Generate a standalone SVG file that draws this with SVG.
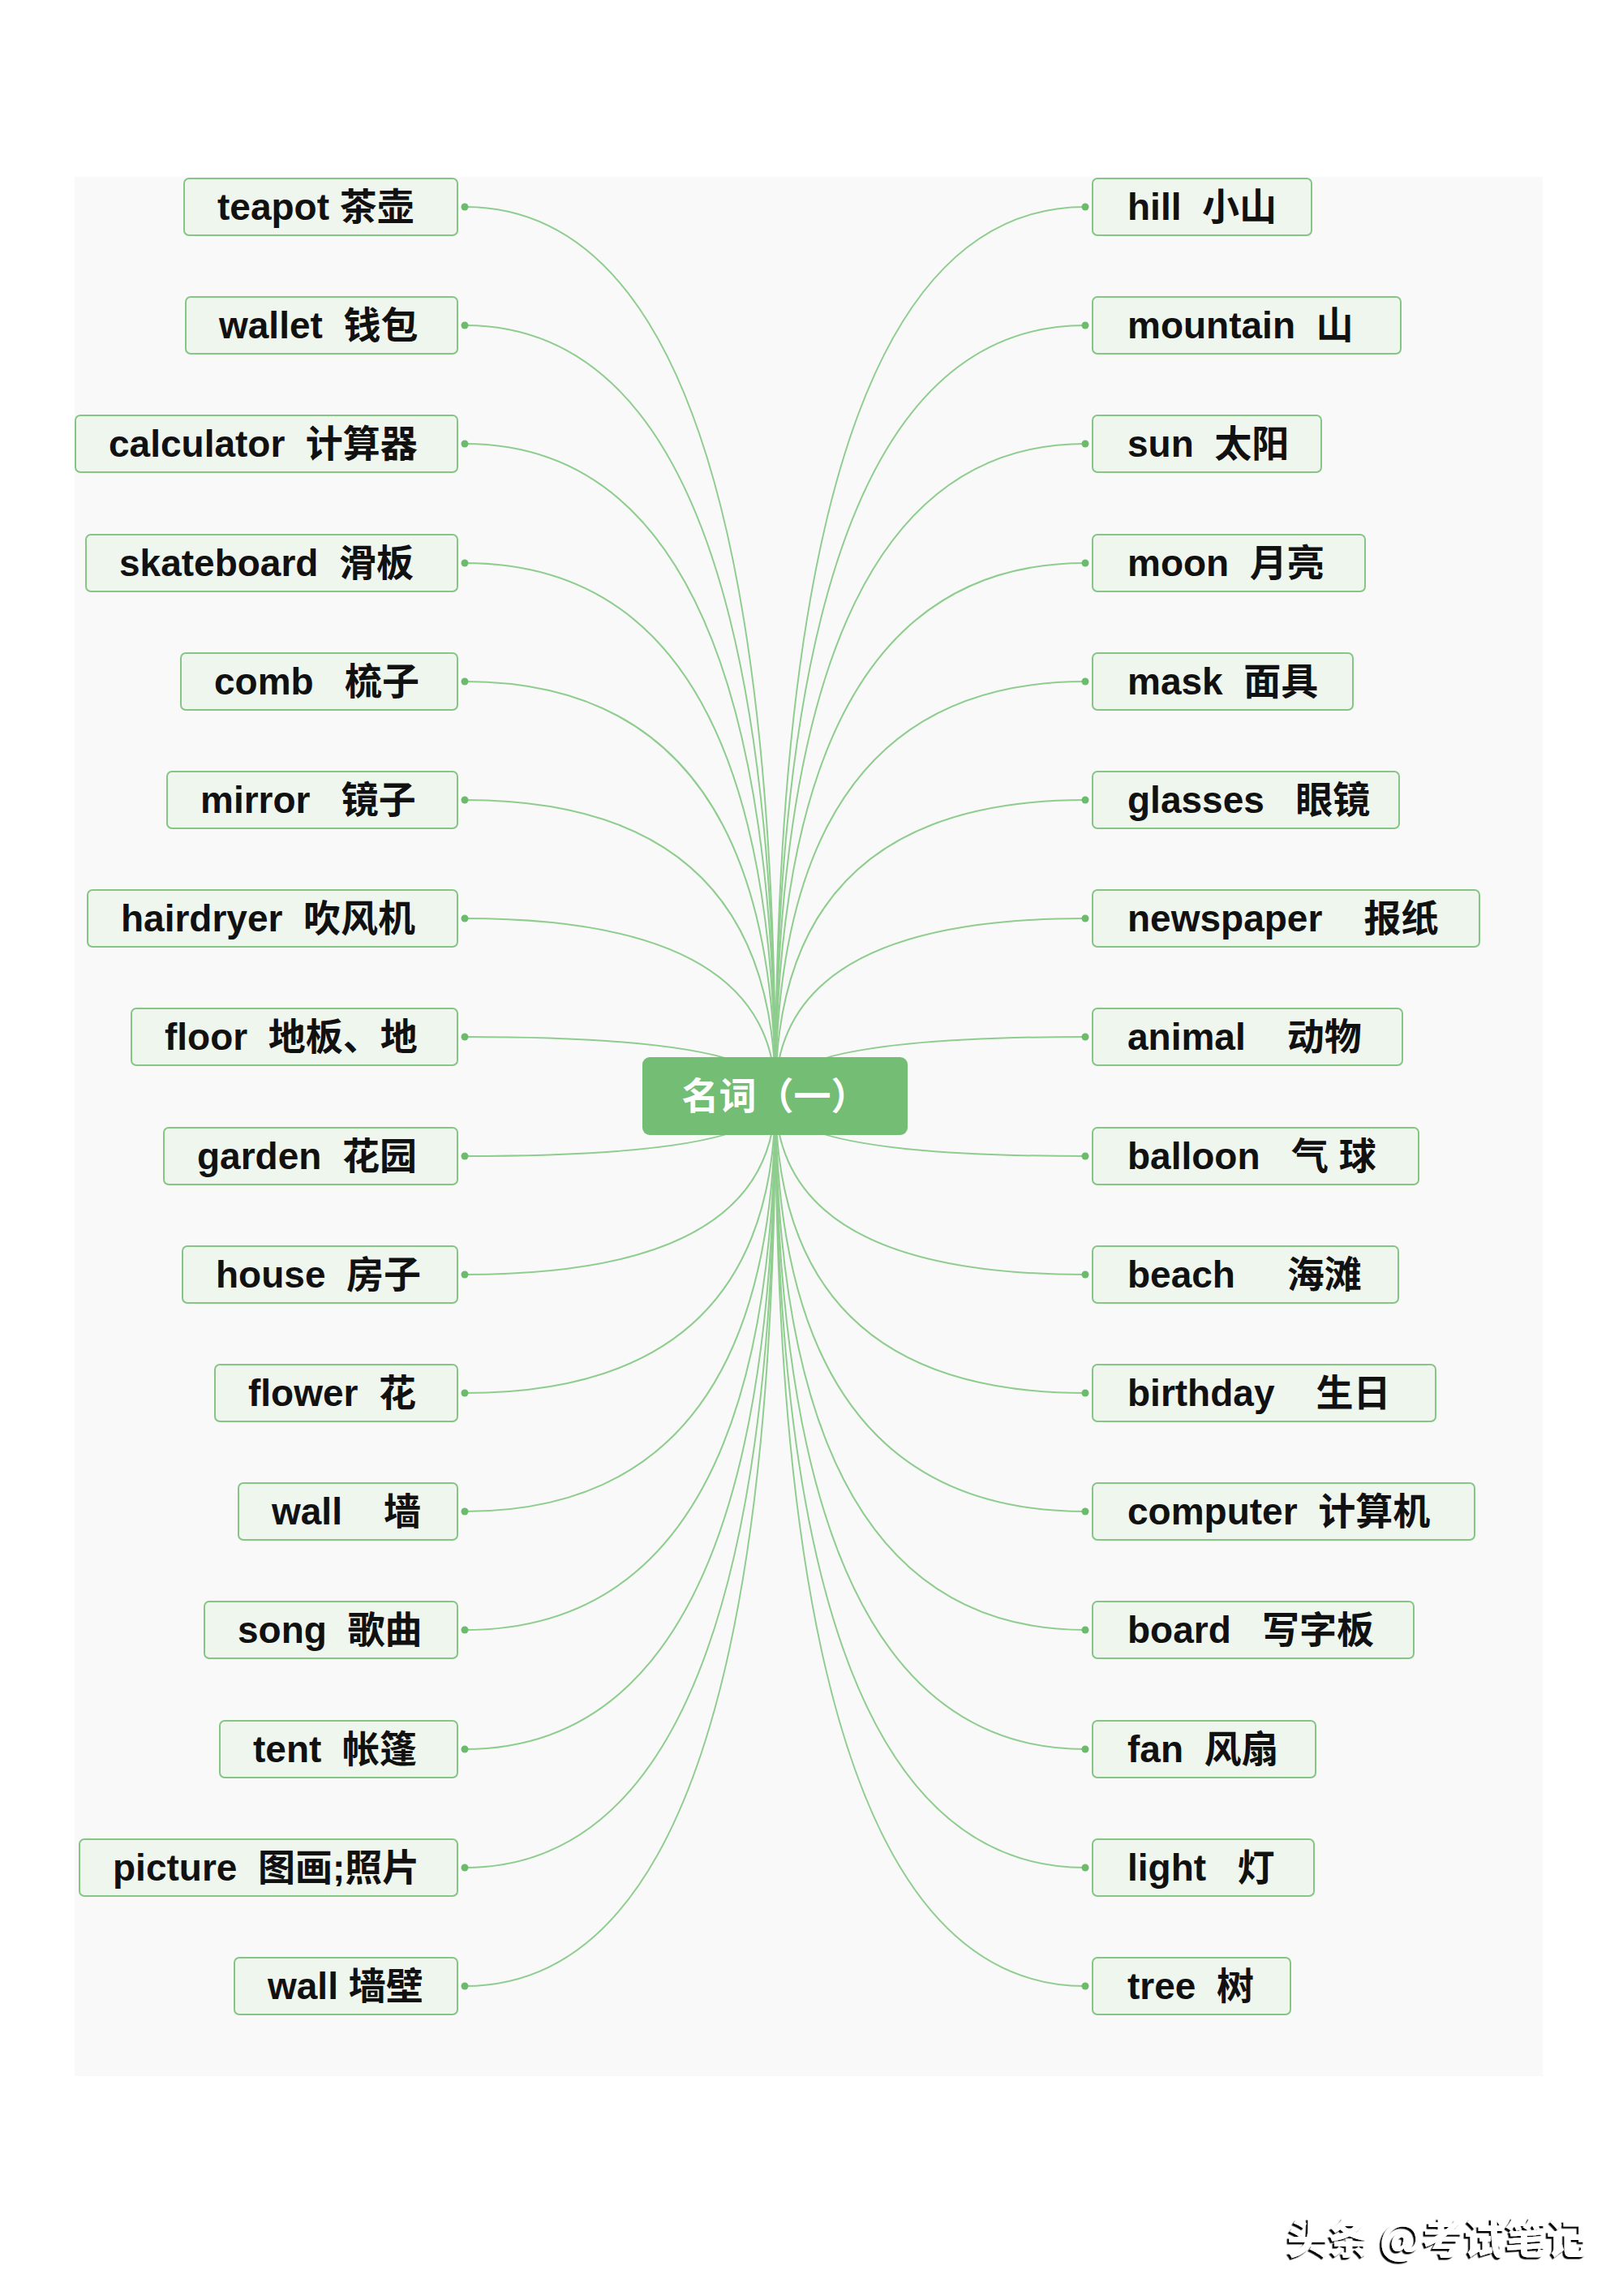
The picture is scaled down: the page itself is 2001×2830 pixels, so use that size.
<svg xmlns="http://www.w3.org/2000/svg" width="2001" height="2830" viewBox="0 0 2001 2830">
<style>
.bg{fill:#f9f9f9}
.box{fill:#eff6ee;stroke:#86c586;stroke-width:2}
.lbl{font-family:"Liberation Sans","Noto Sans CJK SC",sans-serif;font-weight:bold;font-size:46px;fill:#111;white-space:pre}
.conn{fill:none;stroke:#8fcd8f;stroke-width:2}
.dot{fill:#6cbb6c}
.root{fill:#74bd74}
.rootlbl{font-family:"Noto Sans CJK SC",sans-serif;font-weight:bold;font-size:46px;fill:#fff}
.wm{font-family:"Noto Sans CJK SC",sans-serif;font-weight:900;font-size:51px;fill:#fff}
</style>
<defs>
<filter id="sh" x="-10%" y="-30%" width="120%" height="160%">
<feDropShadow dx="-2.5" dy="2.5" stdDeviation="0.7" flood-color="#000" flood-opacity="1"/>
</filter>
</defs>
<rect width="2001" height="2830" fill="#fff"/>
<rect class="bg" x="92" y="218" width="1810" height="2341"/>
<g id="connectors">
<path class="conn" d="M573 255Q956 255 956 1351"/>
<path class="conn" d="M573 401Q956 401 956 1351"/>
<path class="conn" d="M573 547Q956 547 956 1351"/>
<path class="conn" d="M573 694Q956 694 956 1351"/>
<path class="conn" d="M573 840Q956 840 956 1351"/>
<path class="conn" d="M573 986Q956 986 956 1351"/>
<path class="conn" d="M573 1132Q956 1132 956 1351"/>
<path class="conn" d="M573 1278Q956 1278 956 1351"/>
<path class="conn" d="M573 1425Q956 1425 956 1351"/>
<path class="conn" d="M573 1571Q956 1571 956 1351"/>
<path class="conn" d="M573 1717Q956 1717 956 1351"/>
<path class="conn" d="M573 1863Q956 1863 956 1351"/>
<path class="conn" d="M573 2009Q956 2009 956 1351"/>
<path class="conn" d="M573 2156Q956 2156 956 1351"/>
<path class="conn" d="M573 2302Q956 2302 956 1351"/>
<path class="conn" d="M573 2448Q956 2448 956 1351"/>
<path class="conn" d="M1338 255Q956 255 956 1351"/>
<path class="conn" d="M1338 401Q956 401 956 1351"/>
<path class="conn" d="M1338 547Q956 547 956 1351"/>
<path class="conn" d="M1338 694Q956 694 956 1351"/>
<path class="conn" d="M1338 840Q956 840 956 1351"/>
<path class="conn" d="M1338 986Q956 986 956 1351"/>
<path class="conn" d="M1338 1132Q956 1132 956 1351"/>
<path class="conn" d="M1338 1278Q956 1278 956 1351"/>
<path class="conn" d="M1338 1425Q956 1425 956 1351"/>
<path class="conn" d="M1338 1571Q956 1571 956 1351"/>
<path class="conn" d="M1338 1717Q956 1717 956 1351"/>
<path class="conn" d="M1338 1863Q956 1863 956 1351"/>
<path class="conn" d="M1338 2009Q956 2009 956 1351"/>
<path class="conn" d="M1338 2156Q956 2156 956 1351"/>
<path class="conn" d="M1338 2302Q956 2302 956 1351"/>
<path class="conn" d="M1338 2448Q956 2448 956 1351"/>
</g>
<g id="root">
<rect class="root" x="792" y="1303" width="327" height="96" rx="9"/>
<text class="rootlbl" x="955.5" y="1367" text-anchor="middle">名词（一）</text>
</g>
<g id="n-teapot"><rect class="box" x="227" y="220" width="337" height="70" rx="6"/><circle class="dot" cx="573" cy="255" r="4.5"/><text class="lbl" x="268" y="271" xml:space="preserve">teapot 茶壶</text></g>
<g id="n-wallet"><rect class="box" x="229" y="366" width="335" height="70" rx="6"/><circle class="dot" cx="573" cy="401" r="4.5"/><text class="lbl" x="270" y="417" xml:space="preserve">wallet  钱包</text></g>
<g id="n-calculator"><rect class="box" x="93" y="512" width="471" height="70" rx="6"/><circle class="dot" cx="573" cy="547" r="4.5"/><text class="lbl" x="134" y="563" xml:space="preserve">calculator  计算器</text></g>
<g id="n-skateboard"><rect class="box" x="106" y="659" width="458" height="70" rx="6"/><circle class="dot" cx="573" cy="694" r="4.5"/><text class="lbl" x="147" y="710" xml:space="preserve">skateboard  滑板</text></g>
<g id="n-comb"><rect class="box" x="223" y="805" width="341" height="70" rx="6"/><circle class="dot" cx="573" cy="840" r="4.5"/><text class="lbl" x="264" y="856" xml:space="preserve">comb   梳子</text></g>
<g id="n-mirror"><rect class="box" x="206" y="951" width="358" height="70" rx="6"/><circle class="dot" cx="573" cy="986" r="4.5"/><text class="lbl" x="247" y="1002" xml:space="preserve">mirror   镜子</text></g>
<g id="n-hairdryer"><rect class="box" x="108" y="1097" width="456" height="70" rx="6"/><circle class="dot" cx="573" cy="1132" r="4.5"/><text class="lbl" x="149" y="1148" xml:space="preserve">hairdryer  吹风机</text></g>
<g id="n-floor"><rect class="box" x="162" y="1243" width="402" height="70" rx="6"/><circle class="dot" cx="573" cy="1278" r="4.5"/><text class="lbl" x="203" y="1294" xml:space="preserve">floor  地板、地</text></g>
<g id="n-garden"><rect class="box" x="202" y="1390" width="362" height="70" rx="6"/><circle class="dot" cx="573" cy="1425" r="4.5"/><text class="lbl" x="243" y="1441" xml:space="preserve">garden  花园</text></g>
<g id="n-house"><rect class="box" x="225" y="1536" width="339" height="70" rx="6"/><circle class="dot" cx="573" cy="1571" r="4.5"/><text class="lbl" x="266" y="1587" xml:space="preserve">house  房子</text></g>
<g id="n-flower"><rect class="box" x="265" y="1682" width="299" height="70" rx="6"/><circle class="dot" cx="573" cy="1717" r="4.5"/><text class="lbl" x="306" y="1733" xml:space="preserve">flower  花</text></g>
<g id="n-wall"><rect class="box" x="294" y="1828" width="270" height="70" rx="6"/><circle class="dot" cx="573" cy="1863" r="4.5"/><text class="lbl" x="335" y="1879" xml:space="preserve">wall    墙</text></g>
<g id="n-song"><rect class="box" x="252" y="1974" width="312" height="70" rx="6"/><circle class="dot" cx="573" cy="2009" r="4.5"/><text class="lbl" x="293" y="2025" xml:space="preserve">song  歌曲</text></g>
<g id="n-tent"><rect class="box" x="271" y="2121" width="293" height="70" rx="6"/><circle class="dot" cx="573" cy="2156" r="4.5"/><text class="lbl" x="312" y="2172" xml:space="preserve">tent  帐篷</text></g>
<g id="n-picture"><rect class="box" x="98" y="2267" width="466" height="70" rx="6"/><circle class="dot" cx="573" cy="2302" r="4.5"/><text class="lbl" x="139" y="2318" xml:space="preserve">picture  图画;照片</text></g>
<g id="n-wall2"><rect class="box" x="289" y="2413" width="275" height="70" rx="6"/><circle class="dot" cx="573" cy="2448" r="4.5"/><text class="lbl" x="330" y="2464" xml:space="preserve">wall 墙壁</text></g>
<g id="n-hill"><rect class="box" x="1347" y="220" width="270" height="70" rx="6"/><circle class="dot" cx="1338" cy="255" r="4.5"/><text class="lbl" x="1390" y="271" xml:space="preserve">hill  小山</text></g>
<g id="n-mountain"><rect class="box" x="1347" y="366" width="380" height="70" rx="6"/><circle class="dot" cx="1338" cy="401" r="4.5"/><text class="lbl" x="1390" y="417" xml:space="preserve">mountain  山</text></g>
<g id="n-sun"><rect class="box" x="1347" y="512" width="282" height="70" rx="6"/><circle class="dot" cx="1338" cy="547" r="4.5"/><text class="lbl" x="1390" y="563" xml:space="preserve">sun  太阳</text></g>
<g id="n-moon"><rect class="box" x="1347" y="659" width="336" height="70" rx="6"/><circle class="dot" cx="1338" cy="694" r="4.5"/><text class="lbl" x="1390" y="710" xml:space="preserve">moon  月亮</text></g>
<g id="n-mask"><rect class="box" x="1347" y="805" width="321" height="70" rx="6"/><circle class="dot" cx="1338" cy="840" r="4.5"/><text class="lbl" x="1390" y="856" xml:space="preserve">mask  面具</text></g>
<g id="n-glasses"><rect class="box" x="1347" y="951" width="378" height="70" rx="6"/><circle class="dot" cx="1338" cy="986" r="4.5"/><text class="lbl" x="1390" y="1002" xml:space="preserve">glasses   眼镜</text></g>
<g id="n-newspaper"><rect class="box" x="1347" y="1097" width="477" height="70" rx="6"/><circle class="dot" cx="1338" cy="1132" r="4.5"/><text class="lbl" x="1390" y="1148" xml:space="preserve">newspaper    报纸</text></g>
<g id="n-animal"><rect class="box" x="1347" y="1243" width="382" height="70" rx="6"/><circle class="dot" cx="1338" cy="1278" r="4.5"/><text class="lbl" x="1390" y="1294" xml:space="preserve">animal    动物</text></g>
<g id="n-balloon"><rect class="box" x="1347" y="1390" width="402" height="70" rx="6"/><circle class="dot" cx="1338" cy="1425" r="4.5"/><text class="lbl" x="1390" y="1441" xml:space="preserve">balloon   气 球</text></g>
<g id="n-beach"><rect class="box" x="1347" y="1536" width="377" height="70" rx="6"/><circle class="dot" cx="1338" cy="1571" r="4.5"/><text class="lbl" x="1390" y="1587" xml:space="preserve">beach     海滩</text></g>
<g id="n-birthday"><rect class="box" x="1347" y="1682" width="423" height="70" rx="6"/><circle class="dot" cx="1338" cy="1717" r="4.5"/><text class="lbl" x="1390" y="1733" xml:space="preserve">birthday    生日</text></g>
<g id="n-computer"><rect class="box" x="1347" y="1828" width="471" height="70" rx="6"/><circle class="dot" cx="1338" cy="1863" r="4.5"/><text class="lbl" x="1390" y="1879" xml:space="preserve">computer  计算机</text></g>
<g id="n-board"><rect class="box" x="1347" y="1974" width="396" height="70" rx="6"/><circle class="dot" cx="1338" cy="2009" r="4.5"/><text class="lbl" x="1390" y="2025" xml:space="preserve">board   写字板</text></g>
<g id="n-fan"><rect class="box" x="1347" y="2121" width="275" height="70" rx="6"/><circle class="dot" cx="1338" cy="2156" r="4.5"/><text class="lbl" x="1390" y="2172" xml:space="preserve">fan  风扇</text></g>
<g id="n-light"><rect class="box" x="1347" y="2267" width="273" height="70" rx="6"/><circle class="dot" cx="1338" cy="2302" r="4.5"/><text class="lbl" x="1390" y="2318" xml:space="preserve">light   灯</text></g>
<g id="n-tree"><rect class="box" x="1347" y="2413" width="244" height="70" rx="6"/><circle class="dot" cx="1338" cy="2448" r="4.5"/><text class="lbl" x="1390" y="2464" xml:space="preserve">tree  树</text></g>
<text class="wm" x="1587" y="2778" filter="url(#sh)">头条 @考试笔记</text>
</svg>
